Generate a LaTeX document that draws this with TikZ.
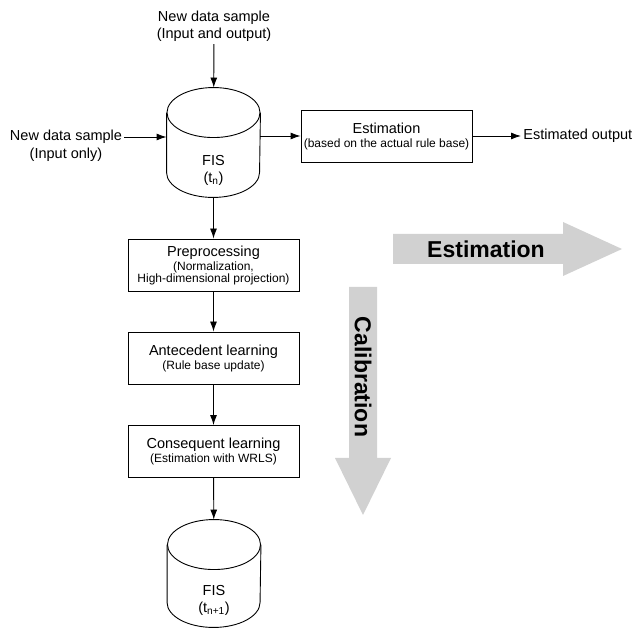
\documentclass[tikz,border=0pt]{standalone}
\usepackage{fontspec}
\setmainfont{Liberation Sans}
\usetikzlibrary{arrows.meta}

\newcommand{\subtxt}[1]{{\fontsize{12}{13}\selectfont #1}}
% outline of a rule base drum round a named node
\newcommand{\drawstore}[1]{%
    \draw ([yshift=-25pt]#1.north) ellipse [x radius=46.5pt, y radius=25pt];
    \draw ([yshift=-25pt]#1.north west) -- ([yshift=25pt]#1.south west)
        arc [start angle=180, end angle=360, x radius=46.5pt, y radius=25pt]
        -- ([yshift=-25pt]#1.north east);}

\begin{document}
\begin{tikzpicture}[x=1pt, y=-1pt, >={Latex[length=10pt,width=7pt]},
    font=\fontsize{14.5}{17}\selectfont, line width=0.9pt,
    box/.style = {draw, align=center, minimum width=171pt, minimum height=52pt, inner sep=1pt},
    store/.style = {minimum width=93pt, minimum height=#1, inner sep=0pt},
    txt/.style = {align=center, inner sep=2pt},
    bigarrow/.style = {fill=black!18, draw=none},
    bigtxt/.style = {font=\fontsize{23}{23}\selectfont\bfseries, inner sep=0pt}]
    \useasboundingbox (0,0) rectangle (633,628);

    % inputs and the actual rule base
    \node[txt] (inT) at (214,26.5) {New data sample\\(Input and output)};
    \node[store=109pt] (fisA) at (213.5,142.5) {};
    \node[txt] (fisAt) at (213.5,170) {FIS\\(t\textsubscript{n})};
    \node[txt] (inL) at (66,137) {New data sample};
    \node[txt] (inLb) at (66,155) {(Input only)};
    \node[box] (est) at (386.5,136) {Estimation\\[-3pt] \subtxt{(based on the actual rule base)}};
    \node[txt, anchor=west] (out) at (521,136) {Estimated output};

    % learning steps
    \node[box] (pre) at (213.5,265) {Preprocessing\\[-3pt] \subtxt{(Normalization,}\\[-5pt] \subtxt{High-dimensional projection)}};
    \node[box] (ant) at (213.5,358) {Antecedent learning\\[-3pt] \subtxt{(Rule base update)}};
    \node[box] (con) at (213.5,451.5) {Consequent learning\\[-3pt] \subtxt{(Estimation with WRLS)}};
    \node[store=107pt] (fisB) at (214,573.5) {};
    \node[txt] (fisBt) at (214,600) {FIS\\(t\textsubscript{n+1})};

    \drawstore{fisA}
    \drawstore{fisB}

\draw[->] (inT) -- (fisA);
\draw[->] (inL) -- (inL -| fisA.west);
\draw[->] (fisA.east |- est.west) -- (est.west);
\draw[->] (est) -- (out);
\draw[->] (fisA) -- (pre);
\draw[->] (pre) -- (ant);
\draw[->] (ant) -- (con);
\draw[->] (con) -- (fisB);

    % big gray arrows
    \fill[bigarrow] (393,234) -- (563,234) -- (563,222) -- (622,249) -- (563,276)
        -- (563,264) -- (393,264) -- cycle;
    \node[bigtxt] (estA) at (486,249) {Estimation};
    \fill[bigarrow] (349,287) -- (377,287) -- (377,458) -- (391,458) -- (363,515)
        -- (335,458) -- (349,458) -- cycle;
    \node[bigtxt, rotate=-90] (calA) at (363,377) {Calibration};
\end{tikzpicture}
\end{document}
